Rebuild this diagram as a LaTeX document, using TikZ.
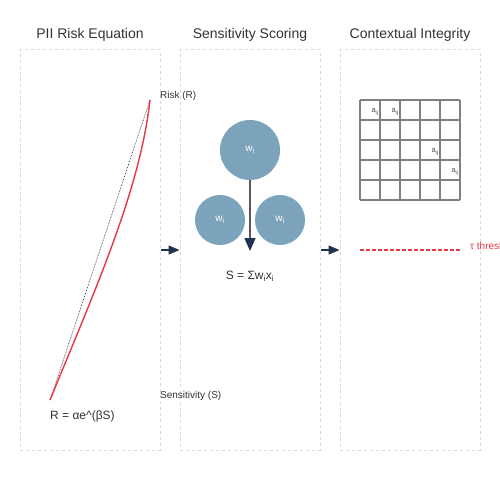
\documentclass[tikz,border=0pt]{standalone}
\usepackage{fontspec}
\setmainfont{Liberation Sans}
\usetikzlibrary{arrows.meta,positioning}
\definecolor{wblue}{HTML}{7BA3BC}
\definecolor{navy}{HTML}{1F3352}
\definecolor{riskred}{HTML}{E63946}
\definecolor{panelgray}{HTML}{D8D8D8}

\begin{document}
\begin{tikzpicture}[x=1pt, y=-1pt,
    panel/.style={draw=panelgray, dashed, line width=1pt, minimum width=140pt, minimum height=400pt, inner sep=0pt},
    title/.style={font=\fontsize{14}{16}\selectfont, text=black!80},
    wcircle/.style={circle, fill=wblue, inner sep=0pt, text=white, font=\fontsize{10}{11}\selectfont},
    flowarrow/.style={-{Triangle[length=11pt,width=9pt]}, navy, line width=1.2pt},
    small/.style={font=\fontsize{10}{12}\selectfont, text=black!80, anchor=west, inner sep=0pt}]
    \clip (0,0) rectangle (500,500);
    \fill[white] (0,0) rectangle (500,500);

    % three panels
    \node[panel] (eqpanel) at (90,250) {};
    \node[panel] (scorepanel) at (250,250) {};
    \node[panel] (ctxpanel) at (410,250) {};
    \node[title] (eqtitle) at (90,35) {PII Risk Equation};
    \node[title] (scoretitle) at (250,35) {Sensitivity Scoring};
    \node[title] (ctxtitle) at (410,35) {Contextual Integrity};

    \draw[flowarrow] (eqpanel.east) -- (scorepanel.west);
    \draw[flowarrow] (scorepanel.east) -- (ctxpanel.west);

    % risk curve
    \coordinate (r0) at (50,400);
    \coordinate (r1) at (150,100);
    \draw[black, densely dotted, line width=0.6pt] (r0) -- (r1);
    \draw[riskred, line width=1.4pt] (r0) .. controls (95,290) and (140,190) .. (r1);
    \node[small] (risklabel) at (160,96) {Risk (R)};
    \node[small] (senslabel) at (160,396) {Sensitivity (S)};
    \node[small, font=\fontsize{12}{14}\selectfont] (riskeq) at (50,416) {R = αe\^{}(βS)};

    % weights
    \node[wcircle, minimum size=60pt] (w0) at (250,150) {w\textsubscript{i}};
    \node[wcircle, minimum size=50pt] (w1) at (220,220) {w\textsubscript{i}};
    \node[wcircle, minimum size=50pt] (w2) at (280,220) {w\textsubscript{i}};
    \coordinate (wend) at (250,251);
    \draw[black!65, line width=1.5pt, -{Triangle[length=13pt,width=11pt,navy]}] (w0.south) -- (wend);
    \node[font=\fontsize{12}{14}\selectfont, text=black!80] (sumeq) at (250,276) {S = Σw\textsubscript{i}x\textsubscript{i}};

    % integrity grid
    \foreach \k in {0,...,5} {
        \draw[black!50, line width=1.2pt] (360+20*\k,100) -- (360+20*\k,200);
        \draw[black!50, line width=1.2pt] (360,100+20*\k) -- (460,100+20*\k);
    }
    \foreach \cx/\cy in {0/0, 1/0, 3/2, 4/3}
        \node[font=\fontsize{7.5}{8}\selectfont, text=black!70, inner sep=0pt] at (375+20*\cx,112+20*\cy) {a\textsubscript{ij}};

    \coordinate (t0) at (360,250);
    \coordinate (t1) at (460,250);
    \draw[riskred, line width=1.2pt, dash pattern=on 4pt off 2pt] (t0) -- (t1);
    \node[small, text=riskred] (taulabel) at (470,246) {τ threshold};
\end{tikzpicture}
\end{document}
